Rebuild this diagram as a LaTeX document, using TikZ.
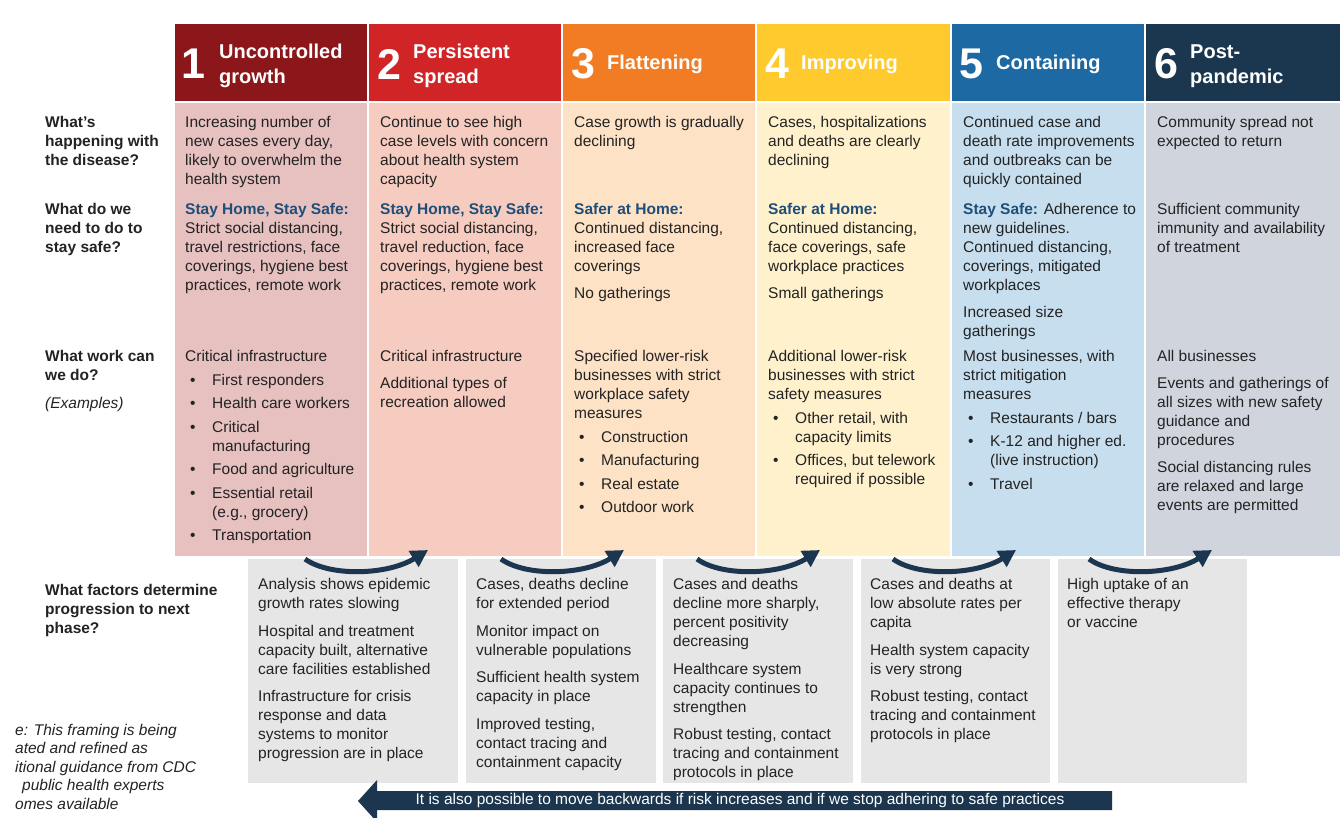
\documentclass[tikz,border=0pt]{standalone}
\usepackage{fontspec}
\setmainfont{Liberation Sans}
\usetikzlibrary{arrows.meta}

\definecolor{hdone}{RGB}{139,23,26}
\definecolor{hdtwo}{RGB}{208,36,39}
\definecolor{hdthree}{RGB}{241,124,35}
\definecolor{hdfour}{RGB}{254,202,46}
\definecolor{hdfive}{RGB}{29,105,163}
\definecolor{hdsix}{RGB}{26,55,79}
\definecolor{bdone}{RGB}{231,192,192}
\definecolor{bdtwo}{RGB}{246,203,192}
\definecolor{bdthree}{RGB}{253,226,198}
\definecolor{bdfour}{RGB}{255,241,204}
\definecolor{bdfive}{RGB}{199,222,238}
\definecolor{bdsix}{RGB}{208,213,221}
\definecolor{boxgray}{RGB}{230,230,230}
\definecolor{navy}{RGB}{27,54,78}
\definecolor{stayblue}{RGB}{31,79,120}
\definecolor{ink}{RGB}{35,35,35}

\newcommand\bodyfont{\fontsize{15.5}{19}\selectfont}
\newcommand\hdrfont{\fontsize{20}{25}\selectfont\bfseries}
\newcommand\numfont{\fontsize{43}{43}\selectfont\bfseries}
\newcommand\stay[1]{\textcolor{stayblue}{\textbf{#1}}}
\newcommand\bul{\hspace*{5pt}\makebox[22pt][l]{\textbullet}}
\newcommand\bulind{\hspace*{27pt}}

\begin{document}
\begin{tikzpicture}[x=1pt, y=-1pt,
    num/.style={anchor=west, inner sep=0pt, text=white, font=\numfont},
    hdr/.style={anchor=west, inner sep=0pt, text=white, font=\hdrfont, align=left},
    cell/.style={anchor=north west, inner sep=0pt, align=left, text=ink, font=\bodyfont},
    ask/.style={anchor=north west, inner sep=0pt, align=left, text=ink, font=\bodyfont\bfseries},
    turn/.style={draw=navy, line width=5pt, -{Triangle[length=17pt,width=18pt]}}]
\useasboundingbox (0,0) rectangle (1344,817);
\fill[white] (0,0) rectangle (1344,817);

% questions
\node[ask] (qdis) at (45,114) {\strut What's\\happening with\\the disease?};
\node[ask] (qsafe) at (45,201) {\strut What do we\\need to do to\\stay safe?};
\node[ask] (qwork) at (45,348) {\strut What work can\\we do?\\[9pt]{\mdseries\itshape (Examples)}};
\node[ask] (qfac) at (45,582) {\strut What factors determine\\progression to next\\phase?};

% 1 Uncontrolled growth
\fill[hdone] (175,24) rectangle (367,101);
\fill[bdone] (175,103) rectangle (367,556);
\node[num] (n1) at (181,64) {1};
\node[hdr] (h1) at (219,66) {Uncontrolled\\growth};
\node[cell] (dis1) at (185,114) {\strut Increasing number of\\new cases every day,\\likely to overwhelm the\\health system};
\node[cell] (safe1) at (185,201) {\strut\stay{Stay Home, Stay Safe:}\\Strict social distancing,\\travel restrictions, face\\coverings, hygiene best\\practices, remote work};
\node[cell] (work1) at (185,348) {\strut Critical infrastructure\\[4.5pt]\bul First responders\\[4.5pt]\bul Health care workers\\[4.5pt]\bul Critical\\\bulind manufacturing\\[4.5pt]\bul Food and agriculture\\[4.5pt]\bul Essential retail\\\bulind (e.g., grocery)\\[4.5pt]\bul Transportation};

% 2 Persistent spread
\fill[hdtwo] (369,24) rectangle (561,101);
\fill[bdtwo] (369,103) rectangle (561,556);
\node[num] (n2) at (377,64) {2};
\node[hdr] (h2) at (413,66) {Persistent\\spread};
\node[cell] (dis2) at (380,114) {\strut Continue to see high\\case levels with concern\\about health system\\capacity};
\node[cell] (safe2) at (380,201) {\strut\stay{Stay Home, Stay Safe:}\\Strict social distancing,\\travel reduction, face\\coverings, hygiene best\\practices, remote work};
\node[cell] (work2) at (380,348) {\strut Critical infrastructure\\[8pt]Additional types of\\recreation allowed};

% 3 Flattening
\fill[hdthree] (563,24) rectangle (755,101);
\fill[bdthree] (563,103) rectangle (755,556);
\node[num] (n3) at (571,64) {3};
\node[hdr] (h3) at (607,64) {Flattening};
\node[cell] (dis3) at (574,114) {\strut Case growth is gradually\\declining};
\node[cell] (safe3) at (574,201) {\strut\stay{Safer at Home:}\\Continued distancing,\\increased face\\coverings\\[8pt]No gatherings};
\node[cell] (work3) at (574,348) {\strut Specified lower-risk\\businesses with strict\\workplace safety\\measures\\[4.5pt]\bul Construction\\[4.5pt]\bul Manufacturing\\[4.5pt]\bul Real estate\\[4.5pt]\bul Outdoor work};

% 4 Improving
\fill[hdfour] (757,24) rectangle (950,101);
\fill[bdfour] (757,103) rectangle (950,556);
\node[num] (n4) at (765,64) {4};
\node[hdr] (h4) at (801,64) {Improving};
\node[cell] (dis4) at (768,114) {\strut Cases, hospitalizations\\and deaths are clearly\\declining};
\node[cell] (safe4) at (768,201) {\strut\stay{Safer at Home:}\\Continued distancing,\\face coverings, safe\\workplace practices\\[8pt]Small gatherings};
\node[cell] (work4) at (768,348) {\strut Additional lower-risk\\businesses with strict\\safety measures\\[4.5pt]\bul Other retail, with\\\bulind capacity limits\\[4.5pt]\bul Offices, but telework\\\bulind required if possible};

% 5 Containing
\fill[hdfive] (952,24) rectangle (1144,101);
\fill[bdfive] (952,103) rectangle (1144,556);
\node[num] (n5) at (959,64) {5};
\node[hdr] (h5) at (996,64) {Containing};
\node[cell] (dis5) at (963,114) {\strut Continued case and\\death rate improvements\\and outbreaks can be\\quickly contained};
\node[cell] (safe5) at (963,201) {\strut\stay{Stay Safe:} Adherence to\\new guidelines.\\Continued distancing,\\coverings, mitigated\\workplaces\\[8pt]Increased size\\gatherings};
\node[cell] (work5) at (963,348) {\strut Most businesses, with\\strict mitigation\\measures\\[4.5pt]\bul Restaurants / bars\\[4.5pt]\bul K-12 and higher ed.\\\bulind (live instruction)\\[4.5pt]\bul Travel};

% 6 Post-pandemic
\fill[hdsix] (1146,24) rectangle (1340,101);
\fill[bdsix] (1146,103) rectangle (1340,556);
\node[num] (n6) at (1154,64) {6};
\node[hdr] (h6) at (1190,66) {Post-\\pandemic};
\node[cell] (dis6) at (1157,114) {\strut Community spread not\\expected to return};
\node[cell] (safe6) at (1157,201) {\strut Sufficient community\\immunity and availability\\of treatment};
\node[cell] (work6) at (1157,348) {\strut All businesses\\[8pt]Events and gatherings of\\all sizes with new safety\\guidance and\\procedures\\[8pt]Social distancing rules\\are relaxed and large\\events are permitted};

% progression factors
\fill[boxgray] (248,559) rectangle (458,783);
\fill[boxgray] (466,559) rectangle (656,783);
\fill[boxgray] (663,559) rectangle (853,783);
\fill[boxgray] (861,559) rectangle (1050,783);
\fill[boxgray] (1058,559) rectangle (1247,783);
\node[cell] (f1) at (258,576) {\strut Analysis shows epidemic\\growth rates slowing\\[8.5pt]Hospital and treatment\\capacity built, alternative\\care facilities established\\[8.5pt]Infrastructure for crisis\\response and data\\systems to monitor\\progression are in place};
\node[cell] (f2) at (476,576) {\strut Cases, deaths decline\\for extended period\\[8.5pt]Monitor impact on\\vulnerable populations\\[8.5pt]Sufficient health system\\capacity in place\\[8.5pt]Improved testing,\\contact tracing and\\containment capacity};
\node[cell] (f3) at (673,576) {\strut Cases and deaths\\decline more sharply,\\percent positivity\\decreasing\\[8.5pt]Healthcare system\\capacity continues to\\strengthen\\[8.5pt]Robust testing, contact\\tracing and containment\\protocols in place};
\node[cell] (f4) at (870,576) {\strut Cases and deaths at\\low absolute rates per\\capita\\[8.5pt]Health system capacity\\is very strong\\[8.5pt]Robust testing, contact\\tracing and containment\\protocols in place};
\node[cell] (f5) at (1067,576) {\strut High uptake of an\\effective therapy\\or vaccine};

% next phase arrows
\coordinate (s1) at (305,559); \coordinate (e1) at (428,550);
\coordinate (s2) at (501,559); \coordinate (e2) at (624,550);
\coordinate (s3) at (697,559); \coordinate (e3) at (820,550);
\coordinate (s4) at (893,559); \coordinate (e4) at (1016,550);
\coordinate (s5) at (1089,559); \coordinate (e5) at (1212,550);
\draw[turn] (s1) .. controls +(25,18) and +(-40,25) .. (e1);
\draw[turn] (s2) .. controls +(25,18) and +(-40,25) .. (e2);
\draw[turn] (s3) .. controls +(25,18) and +(-40,25) .. (e3);
\draw[turn] (s4) .. controls +(25,18) and +(-40,25) .. (e4);
\draw[turn] (s5) .. controls +(25,18) and +(-40,25) .. (e5);

% backwards
\fill[navy] (358,801) -- (377,780) -- (377,791) -- (1112,791) -- (1112,810) -- (377,810) -- (377,822) -- cycle;
\node[text=white, font=\fontsize{15.5}{18}\selectfont, inner sep=0pt] (back) at (740,800.5) {It is also possible to move backwards if risk increases and if we stop adhering to safe practices};

% note
\node[cell, font=\fontsize{15.5}{18.5}\selectfont\itshape] (note) at (15,722) {\strut e: This framing is being\\ated and refined as\\itional guidance from CDC\\\hspace*{7pt}public health experts\\omes available};
\end{tikzpicture}
\end{document}
